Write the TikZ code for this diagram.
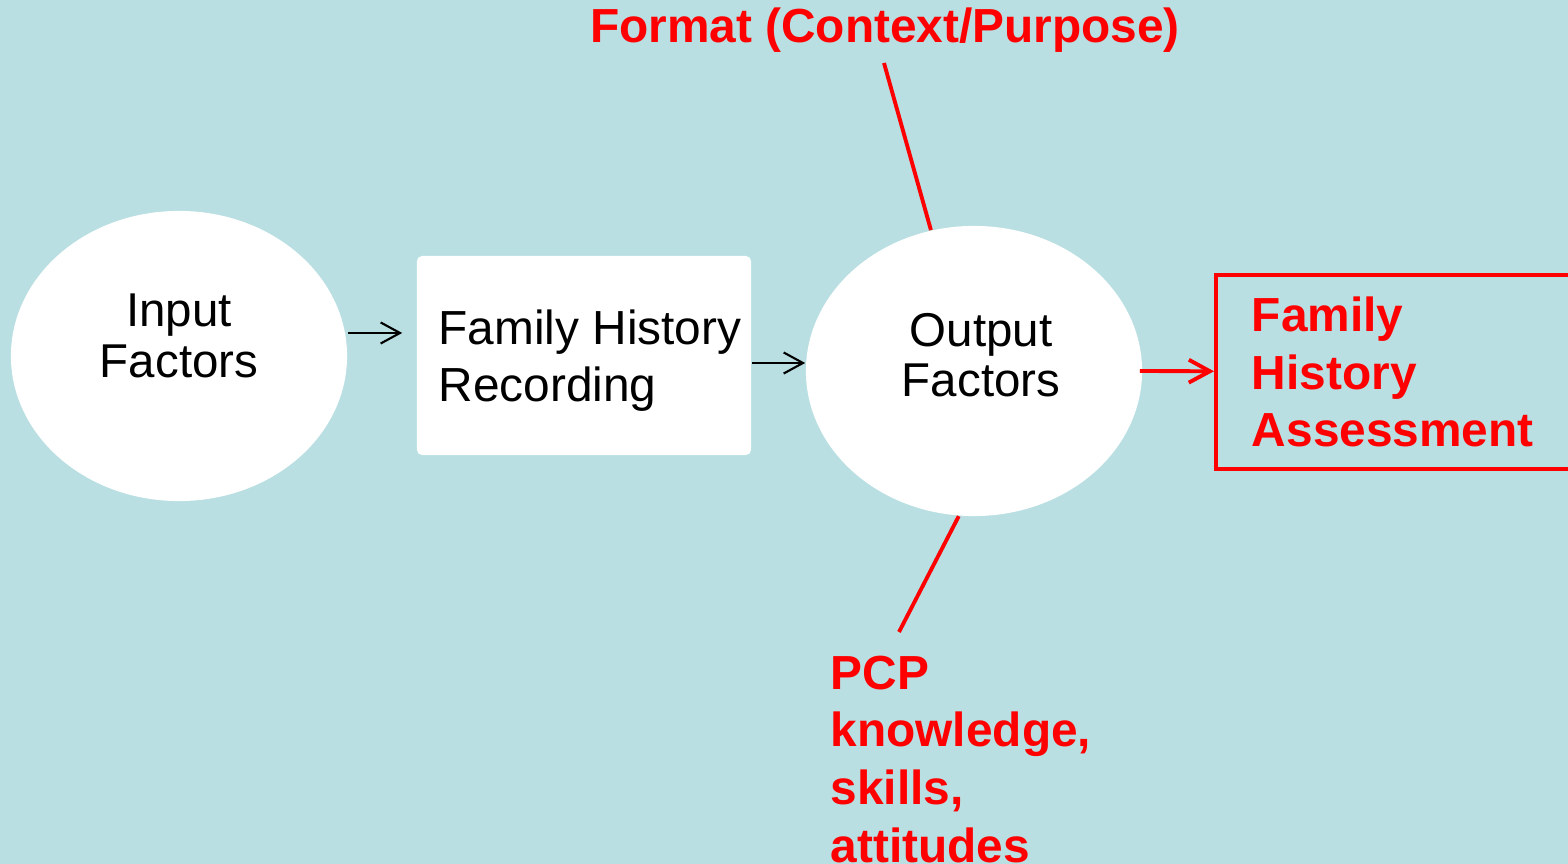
\documentclass[tikz,border=0pt]{standalone}
\usepackage{fontspec}
\setmainfont{Liberation Sans}
\usetikzlibrary{shapes.geometric,arrows.meta,positioning}
\definecolor{slidebg}{RGB}{185,223,227}
\definecolor{slidered}{RGB}{255,0,0}

\begin{document}
\begin{tikzpicture}[
        x=0.01cm, y=-0.01cm,
        factor/.style={ellipse, fill=white, minimum width=3.36cm, minimum height=2.90cm},
        factortxt/.style={inner sep=0pt, align=center, font=\fontsize{13.5}{14.3}\selectfont},
        block/.style={rectangle, fill=white, rounded corners=1.5pt, minimum width=3.34cm, minimum height=1.99cm},
        blocktxt/.style={inner sep=0pt, align=left, font=\fontsize{13.6}{16.4}\selectfont},
        outcome/.style={rectangle, draw=slidered, line width=1.1pt, minimum width=3.70cm, minimum height=1.94cm, inner xsep=0.36cm, text width=2.98cm, align=left, text=slidered, font=\fontsize{13.6}{16.4}\selectfont\bfseries},
        redlbl/.style={inner sep=0pt, align=left, text=slidered, font=\fontsize{13.6}{16.4}\selectfont\bfseries},
        arr/.style={line width=0.6pt, -{Straight Barb[length=5.5pt, width=6pt]}},
        redarr/.style={line width=1.1pt, slidered, -{Straight Barb[length=6pt, width=6.5pt]}},
        redline/.style={line width=1.1pt, slidered}
    ]
        \useasboundingbox (0,0) rectangle (1568,864);
        \fill[slidebg] (0,0) rectangle (1568,864);

        % Nodes
        \node[factor, label={[factortxt, yshift=0.2cm]center:Input\\Factors}] (input) at (179,356) {};
        \node[block, label={[blocktxt, xshift=0.06cm, yshift=-0.05cm]center:Family History\\Recording}] (record) at (584,355.5) {};
        \node[factor, label={[factortxt, xshift=0.07cm, yshift=0.16cm]center:Output\\Factors}] (output) at (974,371) {};
        \node[outcome, anchor=north west] (assess) at (1214,273) {Family\\History\\Assessment};

        \node[redlbl, anchor=base] (format) at (885,43) {Format (Context/Purpose)};
        \node[redlbl, anchor=north west] (pcp) at (830,655) {PCP\\knowledge,\\skills,\\attitudes};
        \coordinate (fmtend) at (884,63);
        \coordinate (pcpend) at (899,632);

        % Connectors
        \draw[arr, shorten >=0.14cm] ([yshift=0.23cm]input.east) -- ([yshift=0.23cm]input.east -| record.west);
        \draw[arr] ([yshift=-0.075cm]record.east) -- ([yshift=-0.075cm]record.east -| output.west);
        \draw[redarr] ([xshift=-0.03cm]output.east) -- (assess);
        \draw[redline] (fmtend) -- (output.107);
        \draw[redline] (output.264) -- (pcpend);
    \end{tikzpicture}
\end{document}
